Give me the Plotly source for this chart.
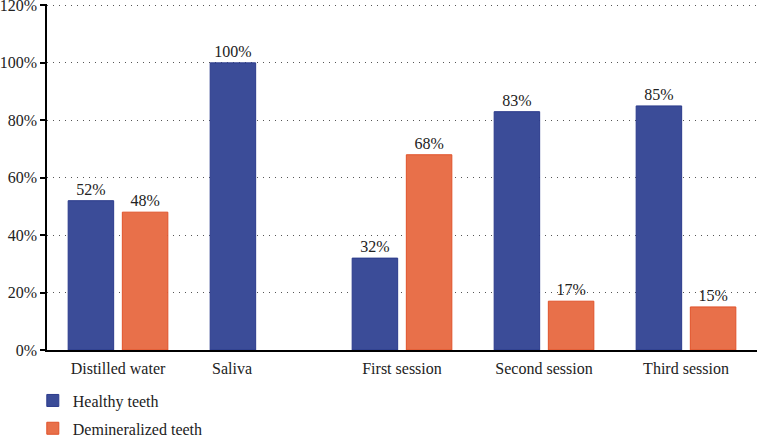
import plotly.graph_objects as go

categories = ["Distilled water", "Saliva", "First session", "Second session", "Third session"]
tick_labels = ["Distilled water", "Saliva" + "\u00a0" * 14, "First session", "Second session", "Third session"]
healthy = [52, 100, 32, 83, 85]
demineralized = [48, None, 68, 17, 15]
y_ticks = [0, 20, 40, 60, 80, 100, 120]
y_tick_labels = [f"{v}%" for v in y_ticks]

FONT = "Liberation Serif, serif"
FS = 16


def pct(values):
    return [f"{v}%" if v is not None else "" for v in values]


fig = go.Figure()
fig.add_trace(go.Bar(
    x=categories, y=healthy, name="Healthy teeth", legendgroup="h",
    marker=dict(color="#3b4c98", line=dict(color="#2b3b8c", width=1)),
    text=pct(healthy), texttemplate="%{text}", textposition="outside",
    textfont=dict(family=FONT, size=FS, color="#222"), cliponaxis=False,
))
fig.add_trace(go.Bar(
    x=categories, y=demineralized, name="Demineralized teeth", legendgroup="d",
    marker=dict(color="#e8704a", line=dict(color="#e0522a", width=1)),
    text=pct(demineralized), texttemplate="%{text}", textposition="outside",
    textfont=dict(family=FONT, size=FS, color="#222"), cliponaxis=False,
))

fig.update_layout(
    width=757, height=436,
    margin=dict(l=47, r=0, t=4, b=86, autoexpand=False),
    plot_bgcolor="white", paper_bgcolor="white",
    font=dict(family=FONT, size=FS, color="#222"),
    barmode="group", bargap=0.237, bargroupgap=0.16,
    showlegend=True,
    legend=dict(
        orientation="v", x=-0.02, xanchor="left", y=-0.097, yanchor="top",
        font=dict(family=FONT, size=FS, color="#222"),
        tracegroupgap=4, itemclick=False,
    ),
    xaxis=dict(
        type="category", tickvals=categories, ticktext=tick_labels,
        showline=True, linecolor="black", linewidth=1.5,
        ticks="", showgrid=False, tickfont=dict(family=FONT, size=FS),
        automargin=False, ticklabelstandoff=3,
    ),
    yaxis=dict(
        range=[0, 120.5], tickvals=y_ticks, ticktext=y_tick_labels,
        showline=True, linecolor="black", linewidth=1.5,
        ticks="outside", ticklen=5, tickcolor="black", tickwidth=1.5,
        showgrid=True, gridcolor="#555", griddash="1px,5px", gridwidth=1,
        zeroline=False, tickfont=dict(family=FONT, size=FS),
        automargin=False, ticklabeloverflow="allow",
    ),
)

fig.write_html("out.html", post_script="document.body.style.margin='0';",
               config={"displayModeBar": False})
